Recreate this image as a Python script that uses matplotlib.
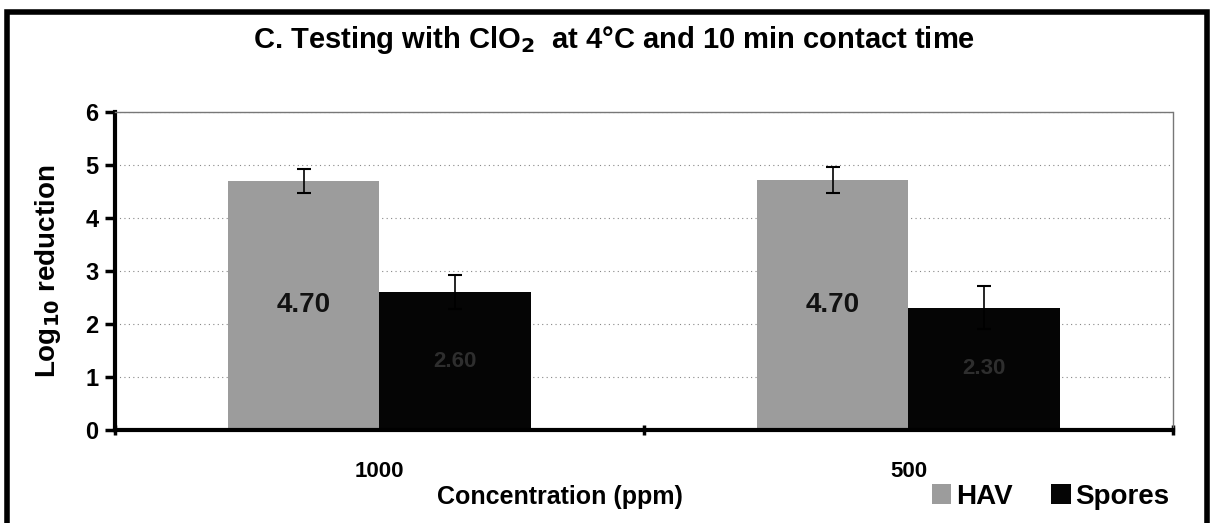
import numpy as np
from matplotlib import pyplot as plt
from matplotlib.patches import Rectangle

# data
categories = ['1000', '500']
hav = [4.70, 4.72]
hav_err = [0.23, 0.24]
spores = [2.60, 2.31]
spores_err = [0.32, 0.40]
hav_labels = ['4.70', '4.70']
spores_labels = ['2.60', '2.30']

plt.rcParams['font.family'] = ['Liberation Sans', 'DejaVu Sans']
plt.rcParams['font.weight'] = 'bold'

fig = plt.figure(figsize=(12.14, 5.23), dpi=100)
ax = fig.add_axes([0.0947, 0.1778, 0.8715, 0.6081])

x = np.arange(len(categories))
w = 0.287
hav_col = '#9c9c9c'
sp_col = '#050505'

b1 = ax.bar(x - w/2, hav, w, color=hav_col, label='HAV', zorder=2)
b2 = ax.bar(x + w/2, spores, w, color=sp_col, label='Spores', zorder=2)
ax.errorbar(x - w/2, hav, yerr=hav_err, fmt='none', ecolor='black',
            elinewidth=1.2, capsize=5, capthick=1.5, zorder=3)
ax.errorbar(x + w/2, spores, yerr=spores_err, fmt='none', ecolor='black',
            elinewidth=1.2, capsize=5, capthick=1.5, zorder=3)

for i in range(len(x)):
    ax.text(x[i] - w/2, hav[i] / 2, hav_labels[i], ha='center', va='center',
            fontsize=20, fontweight='bold', color='#111111', zorder=4)
    ax.text(x[i] + w/2, spores[i] / 2, spores_labels[i], ha='center', va='center',
            fontsize=16, fontweight='bold', color='#2e2e2e', zorder=4)

ax.set_xlim(-0.5, 1.5)
ax.set_ylim(0, 6)
ax.set_yticks(range(7))
ax.tick_params(axis='y', labelsize=17, width=2.5, length=7, direction='out', pad=5)
for lab in ax.get_yticklabels():
    lab.set_fontweight('bold')

# category boundaries get the tick marks, names sit in between
ax.set_xticks([-0.5, 0.5, 1.5])
ax.set_xticklabels([])
ax.tick_params(axis='x', width=2.5, length=7, direction='inout')
ax.set_xticks(x, minor=True)
ax.set_xticklabels(categories, minor=True)
ax.tick_params(axis='x', which='minor', length=0, pad=22, labelsize=16)
for lab in ax.get_xticklabels(minor=True):
    lab.set_fontweight('bold')

ax.yaxis.grid(True, linestyle=(0, (1, 3)), color='#888888', linewidth=0.8, zorder=0)
ax.set_axisbelow(True)

for s in ['left', 'bottom']:
    ax.spines[s].set_linewidth(3)
for s in ['top', 'right']:
    ax.spines[s].set_linestyle((0, (1, 1)))
    ax.spines[s].set_color('#777777')
    ax.spines[s].set_linewidth(1)

ax.set_ylabel(r'Log$_{\mathbf{10}}$ reduction', fontsize=20, fontweight='bold', labelpad=16)
fig.text(0.461, 0.05, 'Concentration (ppm)', ha='center', va='center',
         fontsize=18, fontweight='bold')
fig.text(0.506, 0.924, r'C. Testing with ClO$_{\mathbf{2}}$  at 4°C and 10 min contact time',
         ha='center', va='center', fontsize=21, fontweight='bold')

leg = fig.legend(handles=[b1, b2], loc='center right', bbox_to_anchor=(0.972, 0.05),
                 ncol=2, frameon=False, fontsize=20, handlelength=0.7, handleheight=0.7,
                 handletextpad=0.15, columnspacing=1.4, borderaxespad=0)
for t in leg.get_texts():
    t.set_fontweight('bold')

# thick frame around the whole figure
fig.patches.append(Rectangle((0.006, -0.02), 0.988, 0.998, transform=fig.transFigure,
                             fill=False, edgecolor='black', linewidth=4))

plt.savefig('out.png', dpi=100)
